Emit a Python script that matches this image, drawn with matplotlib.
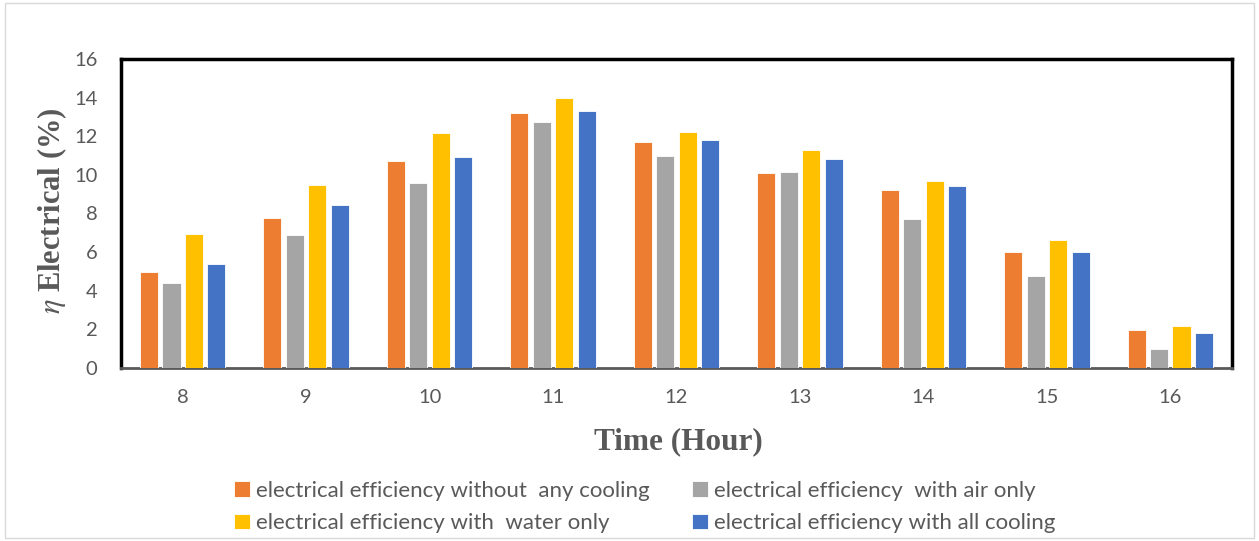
import matplotlib
matplotlib.use("Agg")
import matplotlib.pyplot as plt
import numpy as np
from matplotlib.patches import Rectangle

hours = ["8", "9", "10", "11", "12", "13", "14", "15", "16"]
no_cooling = [4.95, 7.77, 10.7, 13.2, 11.7, 10.1, 9.2, 6.02, 1.95]
air_only = [4.42, 6.91, 9.58, 12.74, 11.0, 10.14, 7.74, 4.76, 1.0]
water_only = [6.93, 9.5, 12.17, 14.0, 12.2, 11.28, 9.67, 6.61, 2.2]
all_cooling = [5.37, 8.42, 10.92, 13.3, 11.8, 10.8, 9.43, 6.02, 1.8]

series_names = ["electrical efficiency without  any cooling",
                "electrical efficiency  with air only",
                "electrical efficiency with  water only",
                "electrical efficiency with all cooling"]
colors = ["#ED7D31", "#A5A5A5", "#FFC000", "#4472C4"]

plt.rcParams["mathtext.fontset"] = "stix"

W, H = 1259, 541
fig = plt.figure(figsize=(W/100, H/100), dpi=100)
fig.patches.append(Rectangle((5/W, 3/H), 1 - 10/W, 1 - 6/H, transform=fig.transFigure,
                             fill=False, edgecolor="#D9D9D9", lw=1))

left, right, top, bottom = 121, 1232, 59, 368
ax = fig.add_axes([left/W, 1 - bottom/H, (right-left)/W, (bottom-top)/H])

x = np.arange(len(hours))
step = 0.182
bw = 0.146
data = [no_cooling, air_only, water_only, all_cooling]
bars = []
for i, (vals, c, name) in enumerate(zip(data, colors, series_names)):
    b = ax.bar(x + (i - 1.5)*step, vals, bw, color=c, edgecolor="white", linewidth=0.6, label=name, zorder=3)
    bars.append(b)

ax.set_xlim(-0.5, len(hours) - 0.5)
ax.set_ylim(0, 16)
ax.set_yticks(np.arange(0, 17, 2))
ax.set_xticks(x)
ax.set_xticklabels(hours)
ax.tick_params(axis="both", length=0, labelsize=14.5, labelcolor="#595959")
ax.tick_params(axis="x", pad=15)
ax.tick_params(axis="y", pad=17)
for lab in ax.get_xticklabels() + ax.get_yticklabels():
    lab.set_family("Lato")
for s in ["left", "top", "right"]:
    ax.spines[s].set_linewidth(2.5)
    ax.spines[s].set_color("black")
ax.spines["bottom"].set_linewidth(2)
ax.spines["bottom"].set_color("#595959")

ax.set_ylabel("$\\eta$ Electrical (%)", fontsize=22, fontweight="bold", family="Liberation Serif",
              color="#595959")
ax.yaxis.set_label_coords((52 - left)/(right-left), (bottom - 211)/(bottom-top))
ax.set_xlabel("Time (Hour)", fontsize=22.5, fontweight="bold", family="Liberation Serif",
              color="#595959")
ax.xaxis.set_label_coords((678 - left)/(right-left), (bottom - 442)/(bottom-top))
ax.xaxis.label.set_verticalalignment("center")
ax.yaxis.label.set_verticalalignment("center")

order = [0, 2, 1, 3]
handles = [bars[i] for i in order]
labels = [series_names[i] for i in order]
leg = fig.legend(handles, labels, loc="center", bbox_to_anchor=(645/W, 1 - 507/H), ncol=2,
                 frameon=False, handlelength=0.7, handleheight=0.7,
                 handletextpad=0.3, columnspacing=1.9, labelspacing=0.55,
                 prop={"family": "Lato", "size": 16})
for t in leg.get_texts():
    t.set_color("#595959")

fig.savefig("out.png", dpi=100)
